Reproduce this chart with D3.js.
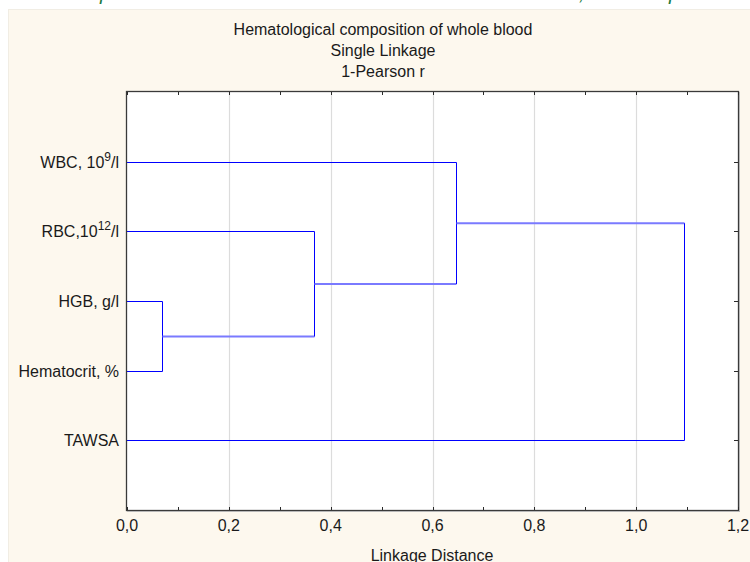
<!DOCTYPE html>
<html>
<head>
<meta charset="utf-8">
<script src="https://cdn.jsdelivr.net/npm/d3@7"></script>
<style>
  html, body { margin: 0; padding: 0; background: #ffffff; }
  svg { display: block; }
  text { font-family: "Liberation Sans", Arial, sans-serif; fill: #1a1a1a; }
</style>
</head>
<body>
<svg id="chart" width="750" height="562"></svg>
<script>
// Variables, top to bottom in the tree order
const leaves = ["WBC", "RBC", "HGB", "Hematocrit", "TAWSA"];
const leafLabels = [
  ["WBC, 10", "9", "/l"],
  ["RBC,10", "12", "/l"],
  ["HGB, g/l", "", ""],
  ["Hematocrit, %", "", ""],
  ["TAWSA", "", ""]
];
// Single-linkage merges: [left child, right child, linkage distance]
const merges = [
  ["HGB", "Hematocrit", 0.069],
  ["RBC", "m0", 0.367],
  ["WBC", "m1", 0.647],
  ["m2", "TAWSA", 1.094]
];
const xTicks = [0, 0.2, 0.4, 0.6, 0.8, 1.0, 1.2];
const xMinorTicks = [0.1, 0.3, 0.5, 0.7, 0.9, 1.1];
const titleLines = ["Hematological composition of whole blood", "Single Linkage", "1-Pearson r"];
const xTitle = "Linkage Distance";

const svg = d3.select("#chart");
const W = 750, H = 562;
const plot = { left: 127, right: 738, top: 92, bottom: 510 };

// page text fragments above the panel (descenders of the previous line)
const head = svg.append("g")
  .style("font-family", "'DejaVu Serif', 'Liberation Serif', serif")
  .style("font-style", "italic").style("font-size", "20px");
[["p", 100], [",", 579], ["p", 669]].forEach(([c, xx]) => {
  head.append("text").attr("x", xx).attr("y", 0).text(c).style("fill", "#1d7a3e");
});

// panel background
svg.append("rect").attr("x", 8).attr("y", 9).attr("width", W - 8).attr("height", H - 9)
  .attr("fill", "#fdf8ee");
svg.append("line").attr("x1", 8).attr("x2", W).attr("y1", 9.5).attr("y2", 9.5)
  .attr("stroke", "#f1ede4");
svg.append("line").attr("x1", 8.5).attr("x2", 8.5).attr("y1", 9).attr("y2", H)
  .attr("stroke", "#f1ede4");

// plot area
svg.append("rect").attr("x", plot.left).attr("y", plot.top)
  .attr("width", plot.right - plot.left).attr("height", plot.bottom - plot.top)
  .attr("fill", "#ffffff");

const x = d3.scaleLinear().domain([0, 1.2]).range([plot.left, plot.right]);
const y = d3.scalePoint().domain(["", ...leaves, " "]).range([plot.top, plot.bottom]);

// vertical grid
svg.append("g").selectAll("line").data(xTicks.slice(1, -1)).join("line")
  .attr("x1", d => Math.round(x(d)) + 0.5).attr("x2", d => Math.round(x(d)) + 0.5)
  .attr("y1", plot.top).attr("y2", plot.bottom)
  .attr("stroke", "#dcdcdc").attr("stroke-width", 1.2);

// build node positions and draw the tree
const pos = {};
leaves.forEach(n => { pos[n] = { x: 0, y: Math.round(y(n)) + 0.5 }; });
const dendro = svg.append("g").attr("fill", "none");
merges.forEach(([a, b, h], i) => {
  const pa = pos[a], pb = pos[b];
  const xm = Math.round(x(h)) + 0.5;
  [pa, pb].forEach(p => {
    const internal = p.x > 0;
    dendro.append("path")
      .attr("d", d3.line()([[internal ? Math.round(x(p.x)) + 0.5 : x(0), p.y], [xm, p.y]]))
      .attr("stroke", internal ? "#7a7aff" : "#0000ff")
      .attr("stroke-width", internal ? 2 : 1);
  });
  dendro.append("path").attr("d", d3.line()([[xm, pa.y], [xm, pb.y]]))
    .attr("stroke", "#0000ff").attr("stroke-width", 1);
  pos["m" + i] = { x: h, y: (pa.y + pb.y) / 2 };
});

// frame
svg.append("rect").attr("x", plot.left - 0.5).attr("y", plot.top - 0.5)
  .attr("width", plot.right - plot.left + 1).attr("height", plot.bottom - plot.top + 1)
  .attr("fill", "none").attr("stroke", "#3a3a3a").attr("stroke-width", 1.3);
svg.append("line").attr("x1", plot.right + 1.5).attr("x2", plot.right + 1.5)
  .attr("y1", plot.top).attr("y2", plot.bottom + 2).attr("stroke", "#b8b8b8");
svg.append("line").attr("x1", plot.left).attr("x2", plot.right + 2)
  .attr("y1", plot.bottom + 1.5).attr("y2", plot.bottom + 1.5).attr("stroke", "#b8b8b8");

// inward tick marks
const tickG = svg.append("g").attr("stroke", "#2a2a2a").attr("stroke-width", 1);
xTicks.concat(xMinorTicks).forEach(t => {
  const xx = Math.round(x(t)) + 0.5;
  tickG.append("line").attr("x1", xx).attr("x2", xx).attr("y1", plot.top).attr("y2", plot.top + 3);
  tickG.append("line").attr("x1", xx).attr("x2", xx).attr("y1", plot.bottom).attr("y2", plot.bottom - 3);
});
leaves.forEach(n => {
  const yy = Math.round(y(n)) + 0.5;
  tickG.append("line").attr("x1", plot.right).attr("x2", plot.right - 4).attr("y1", yy).attr("y2", yy);
});

// x tick labels
const fmt = d => d3.format(".1f")(d).replace(".", ",");
svg.append("g").selectAll("text").data(xTicks).join("text")
  .attr("x", d => x(d)).attr("y", 531)
  .attr("text-anchor", "middle").style("font-size", "16px").text(fmt);

// y labels with superscripts
const lab = svg.append("g").style("font-size", "16px");
leafLabels.forEach(([base, sup, tail], i) => {
  const t = lab.append("text").attr("x", 119).attr("y", Math.round(y(leaves[i])) + 6)
    .attr("text-anchor", "end");
  t.append("tspan").text(base);
  if (sup) {
    t.append("tspan").attr("dy", -7).style("font-size", "12px").text(sup);
    t.append("tspan").attr("dy", 7).text(tail);
  }
});

// titles
svg.append("g").selectAll("text").data(titleLines).join("text")
  .attr("x", 383).attr("y", (d, i) => 35 + i * 21)
  .attr("text-anchor", "middle").style("font-size", "16px").text(d => d);

svg.append("text").attr("x", 432).attr("y", 561).attr("text-anchor", "middle")
  .style("font-size", "16px").text(xTitle);
</script>
</body>
</html>
